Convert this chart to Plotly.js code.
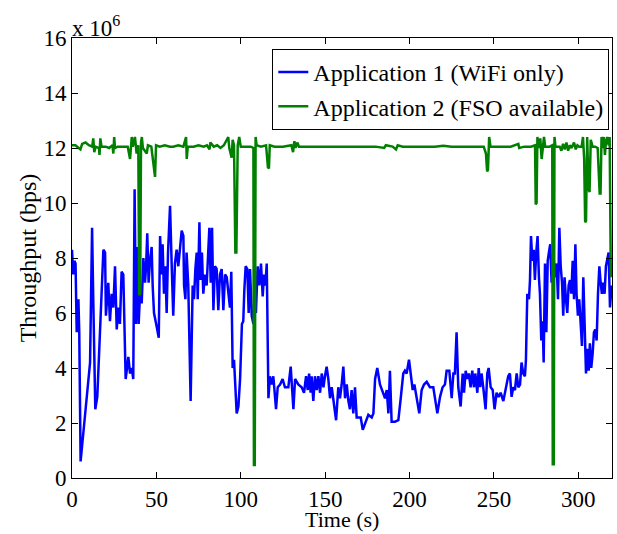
<!DOCTYPE html>
<html>
<head>
<meta charset="utf-8">
<script src="https://cdn.plot.ly/plotly-3.0.1.min.js"></script>
<style>html,body{margin:0;padding:0;background:#fff;}#chart{width:617px;height:534px;}</style>
</head>
<body>
<div id="chart"></div>
<script>
// Throughput in units of 1e6 bps
var app1Time = [
  0,0.7,1.4,2.1,2.8,3.8,4.3,5.1,10.7,11.9,
  12.6,13.8,15,17.6,18.6,19.6,20.1,21.5,22.5,23.5,
  24.5,25.5,26.5,27.5,28.4,29.4,30.4,31.8,33.4,34.4,
  35.4,36.3,37.1,37.9,38.7,39.5,40.3,41.3,42.3,43.3,
  43.9,44.6,45.4,46.2,47.2,47.8,48.6,50.2,51.4,52.2,
  53.1,53.7,54.5,55.3,56.1,56.9,58.1,59.1,60.0,61.0,
  62.0,63.0,64.0,65.0,66.0,66.4,67.2,67.9,68.9,70.3,
  71.5,72.3,73.1,73.9,74.5,75.5,76.2,77.0,77.8,78.8,
  79.8,80.8,81.4,82.2,83.0,83.8,84.7,85.7,86.7,87.7,
  88.7,89.7,90.7,91.7,92.6,93.6,94.4,95.2,96.0,97.6,
  98.6,99.6,100.7,101.5,102.1,102.9,103.9,104.7,105.5,106.5,
  107.5,108.1,109.0,110.0,111.0,112.0,113.0,113.8,114.6,115.4,
  116.4,117.3,118.3,119.3,120.9,121.9,123.3,124.8,126.2,128.2,
  129.6,131.2,132.2,134.1,136.1,137.5,138.7,139.7,140.5,141.4,
  142.0,143.0,144.0,145.0,146.0,147.0,148.0,149.0,149.9,150.9,
  151.9,152.9,153.9,155.3,156.5,157.8,158.8,159.8,160.8,161.8,
  162.8,163.8,164.7,165.7,166.7,167.7,168.7,169.7,171.1,172.3,
  173.6,175.6,177.6,178.6,179.6,180.9,182.5,184.1,185.5,186.5,
  187.5,188.4,189.4,191.4,193.4,194.8,196.3,197.3,198.3,199.7,
  200.7,201.9,202.9,204.3,205.8,207.2,208.6,210.2,212.1,214.1,
  215.1,216.5,218.1,219.6,221.0,222.0,223.6,225.0,226.0,226.9,
  227.9,228.9,230.3,231.5,232.3,233.3,234.2,235.2,236.2,237.2,
  238.2,239.0,240.2,241.0,241.9,242.7,243.7,245.1,246.1,246.9,
  248.1,249.3,250.4,251.6,252.8,254.0,255.6,257.2,258.5,259.5,
  260.5,261.5,262.5,263.5,264.5,265.5,266.4,267.4,268.4,269.0,
  269.8,270.8,271.4,272.0,272.8,273.6,274.3,275.1,275.9,276.7,
  277.3,278.1,278.9,279.5,280.3,281.1,281.9,282.6,283.4,284.2,
  285.2,286.2,287.2,288.0,288.8,289.6,290.4,291.1,291.9,292.7,
  293.5,294.3,295.1,295.9,296.7,297.5,298.3,299.0,299.8,300.6,
  301.4,302.2,303.0,303.8,304.6,305.4,306.2,306.9,307.7,308.5,
  309.3,310.1,310.9,311.7,312.5,313.3,314.0,314.8,315.6,316.4,
  317.2,318.0,318.8,319.8
];
var app1Value = [
  8.3,7.4,7.9,7.8,5.3,6.5,5.3,0.6,4.2,9.1,
  6.5,2.5,2.96,6.5,8.3,8.2,5.9,7.1,5.7,6.7,
  6.2,7.7,5.4,6.2,5.6,7.5,7.4,3.6,4.4,3.8,
  4.0,3.6,10.5,5.6,8.4,5.6,6.7,6.35,8.0,7.1,
  7.7,8.9,7.1,7.9,8.4,7.0,6.0,5.5,5.1,8.8,
  7.4,8.5,6.7,7.7,6.0,8.2,9.9,7.7,5.9,7.8,
  8.3,7.7,8.5,9.0,8.8,7.0,6.5,8.2,7.0,2.8,
  7.0,6.5,7.6,8.2,6.5,9.3,7.2,8.2,6.7,7.4,
  7.0,8.2,9.1,7.1,9.1,6.1,7.7,7.6,6.1,7.4,
  7.6,6.1,7.4,7.3,6.7,6.2,7.5,4.0,4.3,2.35,
  2.6,3.6,5.6,5.7,6.8,7.7,7.6,6.0,7.6,5.9,
  5.6,6.5,6.0,7.7,7.0,7.8,6.6,7.4,7.0,7.8,
  2.9,3.7,3.4,3.7,2.5,3.3,3.4,3.6,3.3,3.3,
  4.05,2.5,3.6,3.4,3.3,3.1,3.7,3.2,3.8,3.1,
  3.7,2.8,3.7,3.2,3.7,3.1,3.8,3.3,3.7,4.05,
  3.6,2.9,3.3,2.7,2.1,3.3,2.9,3.4,4.05,2.9,
  3.4,2.8,2.5,3.2,2.35,3.3,2.2,2.2,2.2,1.75,
  2.0,2.3,2.2,2.35,3.6,4.0,3.4,3.1,2.9,3.2,
  2.35,3.9,2.05,2.05,2.1,2.9,3.8,3.9,3.8,4.3,
  3.8,3.2,3.4,2.8,2.35,3.2,3.4,3.5,3.3,3.3,
  2.9,2.35,2.95,3.3,3.4,3.9,3.9,2.9,3.8,3.8,
  5.3,3.3,2.6,3.8,3.1,3.9,3.6,3.8,3.3,3.9,
  3.3,3.8,3.1,4.0,3.3,3.8,3.3,2.5,3.8,4.0,
  3.3,3.2,2.5,3.1,2.95,3.1,2.8,3.3,3.7,3.8,
  2.95,3.3,3.2,3.8,3.3,3.4,4.2,3.8,3.7,4.3,
  6.7,6.5,7.2,8.8,7.9,8.3,7.2,8.2,8.8,7.3,
  6.7,5.0,5.7,4.2,7.8,5.3,7.9,8.2,8.5,7.1,
  8.2,7.3,7.8,6.5,9.1,7.7,7.1,5.9,7.3,6.5,
  6.0,7.0,7.2,6.7,7.9,6.5,8.5,6.7,5.9,6.5,
  5.5,4.8,7.3,5.7,3.8,4.7,3.9,4.9,4.0,4.5,
  5.3,5.4,5.0,6.7,7.7,7.1,6.7,7.1,6.7,7.7,
  7.9,8.2,6.2,7.0
];
var app2Time = [
  0,2,4,5,6,8,10,12,12.6,13.2,
  14,16,16.3,16.8,17.5,20,22,24,24.5,25,
  25.5,27,30,33,34.4,35.4,36,37.3,38.3,39.3,
  39.8,40.4,40.9,41.4,42,44.3,45,47,49.2,49.8,
  52,55,58,60,63,66,67.6,68,68.6,72,
  75,78,80,81.5,82,84,86,88,90,92.6,
  93.2,94.6,95.2,96,96.8,97.4,98.2,99.1,100,103,
  106,107.5,107.8,108.3,108.8,109.4,112,115,116.1,116.7,
  117.2,120,125,130,131,131.8,132.5,133.5,134.5,140,
  145,150,155,160,165,170,175,180,185,186,
  190,192,193,196,200,205,210,215,220,225,
  230,235,240,244,245.3,246,246.5,247.2,248,252,
  256,260,264.5,265,268,272,274.4,274.8,275.3,275.8,
  276.5,277.5,278.3,278.9,279.7,280.4,283,284.6,284.9,285.5,
  285.9,286.5,289,290,291,292,293,294,295,296,
  297.5,298.5,299.5,300.5,302,302.8,303.5,304.1,304.6,305.3,
  306.1,306.7,307.4,308.5,310,311.5,312.7,313.2,313.8,314.5,
  315.2,315.8,316.4,317.2,318,318.6,319.3,319.8
];
var app2Value = [
  12.1,12.1,12.0,11.95,12.15,12.2,12.1,12.05,12.35,11.85,
  12.05,12.0,11.75,12.35,12.05,12.05,12.0,12.1,11.8,12.4,
  12.0,12.05,12.05,12.05,11.6,12.4,12.05,12.4,11.8,12.1,
  6.65,6.7,12.2,12.4,12.0,11.8,12.1,12.05,10.95,12.1,
  12.05,12.1,12.05,12.05,12.1,12.05,12.4,11.6,12.05,12.05,
  12.1,12.05,12.1,11.95,12.2,12.05,12.1,12.0,12.1,12.4,
  12.0,11.65,12.3,12.1,8.2,8.2,12.1,12.4,12.05,12.05,
  12.05,12.0,0.47,0.47,12.4,12.1,12.05,12.1,11.3,11.26,
  12.1,12.05,12.05,12.1,11.85,12.25,12.0,12.2,12.05,12.05,
  12.05,12.03,12.05,12.05,12.05,12.03,12.05,12.05,12.0,12.1,
  12.05,11.95,12.1,12.05,12.05,12.05,12.05,12.05,12.08,12.05,
  12.05,12.05,12.05,12.05,11.8,11.15,11.2,12.4,12.05,12.05,
  12.05,12.05,12.15,12.0,12.05,12.05,12.1,9.95,10.0,12.4,
  12.0,12.35,11.6,12.1,12.4,12.05,12.05,12.1,0.5,0.5,
  12.4,12.05,12.05,11.9,12.15,11.95,12.2,11.9,12.1,12.0,
  12.2,11.95,12.1,12.05,12.05,12.4,11.6,9.3,9.35,12.4,
  10.5,10.4,12.3,12.05,12.05,12.0,10.35,10.35,12.4,12.0,
  12.4,11.75,12.2,12.4,12.1,12.4,7.4,7.3
];
var seriesNames = ['Application 1 (WiFi only)', 'Application 2 (FSO available)'];
var yTickVals = [0,2,4,6,8,10,12,14,16];
var xTickVals = [0,50,100,150,200,250,300];
var xTitle = 'Time (s)';
var yTitle = 'Throughput (bps)';

var FONT = 'Liberation Serif';
var FS = 24;
var traces = [
  {x: app1Time, y: app1Value, type: 'scatter', mode: 'lines', name: seriesNames[0],
   line: {color: '#0000ff', width: 2.5}},
  {x: app2Time, y: app2Value, type: 'scatter', mode: 'lines', name: seriesNames[1],
   line: {color: '#007f00', width: 2.5}}
];
var layout = {
  width: 617, height: 534,
  margin: {l: 72, r: 5, t: 38, b: 56},
  paper_bgcolor: '#fff', plot_bgcolor: '#fff',
  font: {family: FONT, size: FS, color: '#000'},
  showlegend: true,
  legend: {x: 0.995, y: 0.975, xanchor: 'right', yanchor: 'top',
           bordercolor: '#000', borderwidth: 1, bgcolor: '#fff',
           font: {family: FONT, size: FS, color: '#000'}, itemwidth: 30,
           tracegroupgap: 0},
  xaxis: {range: [0, 320], tickvals: xTickVals, ticks: 'inside', ticklen: 6,
          tickcolor: '#000', showline: true, linecolor: '#000', linewidth: 1,
          mirror: 'ticks', showgrid: false, zeroline: false,
          tickfont: {family: FONT, size: 23, color: '#000'}},
  yaxis: {range: [0, 16], tickvals: yTickVals, ticks: 'inside', ticklen: 6,
          tickcolor: '#000', showline: true, linecolor: '#000', linewidth: 1,
          mirror: 'ticks', showgrid: false, zeroline: false,
          tickfont: {family: FONT, size: 23, color: '#000'},
          title: {text: yTitle, font: {family: FONT, size: FS, color: '#000'}, standoff: 0}},
  annotations: [
    {xref: 'paper', yref: 'paper', x: 0, y: 1, xanchor: 'left', yanchor: 'bottom',
     text: 'x 10<sup>6</sup>', showarrow: false, xshift: -2, yshift: -5,
     font: {family: FONT, size: 23, color: '#000'}},
    {xref: 'paper', yref: 'paper', x: 0.5, y: 0, xanchor: 'center', yanchor: 'middle',
     text: xTitle, showarrow: false, yshift: -41, borderpad: 0,
     font: {family: FONT, size: 22, color: '#000'}}
  ]
};
Plotly.newPlot('chart', traces, layout, {displayModeBar: false, staticPlot: true});
</script>
</body>
</html>
